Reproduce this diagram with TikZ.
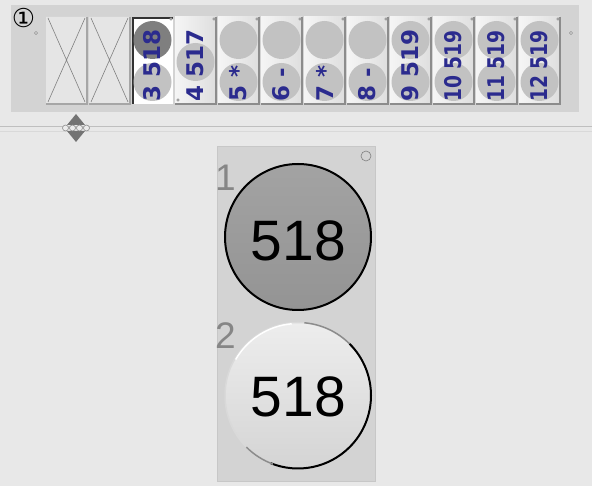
\documentclass[tikz,border=0pt]{standalone}
\usepackage{fontspec}
\setmainfont{Liberation Sans}
\newfontfamily\tilefont{DejaVu Sans}
\usepackage[HTML]{xcolor}
\usepackage{tikz}
\usetikzlibrary{positioning}
\definecolor{winback}{HTML}{E8E8E8}
\definecolor{panelgray}{HTML}{D3D3D3}
\definecolor{discoff}{HTML}{C2C2C2}
\definecolor{discon}{HTML}{7F7F7F}
\definecolor{tileblue}{HTML}{2B2B8E}
\definecolor{labelgray}{HTML}{868686}

\begin{document}
\begin{tikzpicture}[x=1pt,y=-1pt,
  tilebtn/.style={left color=white!96!black, right color=black!13},
  tileedge/.style={draw=black!45, line width=1.2pt},
  tiletext/.style={rotate=90, anchor=west, inner sep=0pt, text=tileblue,
    font=\tilefont\bfseries\fontsize{23}{23}\selectfont},
  cornerdot/.style={draw=black!50, fill=white, line width=0.5pt},
  bigdisc/.style={circle, minimum size=146pt, inner sep=0pt},
  disctext/.style={inner sep=0pt, font=\fontsize{57}{60}\selectfont},
  numlabel/.style={anchor=base west, inner sep=0pt, text=labelgray,
    font=\fontsize{37}{40}\selectfont}]
\useasboundingbox (0,0) rectangle (592,486);
% window background
\fill[winback] (0,0) rectangle (592,486);
% top strip panel
\fill[panelgray] (11,5) rectangle (579,112);
\node[inner sep=0pt, font=\tilefont\fontsize{26}{26}\selectfont] (mark) at (23.5,18) {①};
\draw[cornerdot] (36,33) circle (1.5) (571,33) circle (1.5);
% empty placeholder tiles
\fill[black!10] (46,17) rectangle +(41,87) (89,17) rectangle +(41,87);
\draw[tileedge, draw=black!35] (87,17) -- (87,104) -- (46,104);
\draw[tileedge, draw=black!35] (130,17) -- (130,104) -- (89,104);
\draw[black!50, line width=0.6pt] (48,18) -- (85,102) (85,18) -- (48,102);
\draw[black!50, line width=0.6pt] (91,18) -- (128,102) (128,18) -- (91,102);
% selected tile 3
\fill[white] (132,17) rectangle +(41,87);
\draw[black!80, line width=2pt] (133,104) -- (133,18) -- (173,18);
\fill[discon] (152.5,40) circle (19);
\fill[discoff] (152.5,82) circle (19);
% button tiles 4 to 12
\shade[tilebtn] (175,17) rectangle +(41,87);
\shade[tilebtn] (218,17) rectangle +(41,87);
\shade[tilebtn] (261,17) rectangle +(41,87);
\shade[tilebtn] (304,17) rectangle +(41,87);
\shade[tilebtn] (347,17) rectangle +(41,87);
\shade[tilebtn] (390,17) rectangle +(41,87);
\shade[tilebtn] (433,17) rectangle +(41,87);
\shade[tilebtn] (476,17) rectangle +(41,87);
\shade[tilebtn] (519,17) rectangle +(41,87);
\draw[tileedge] (216,17) -- (216,104) -- (175,104);
\draw[tileedge] (259,17) -- (259,104) -- (218,104);
\draw[tileedge] (302,17) -- (302,104) -- (261,104);
\draw[tileedge] (345,17) -- (345,104) -- (304,104);
\draw[tileedge] (388,17) -- (388,104) -- (347,104);
\draw[tileedge] (431,17) -- (431,104) -- (390,104);
\draw[tileedge] (474,17) -- (474,104) -- (433,104);
\draw[tileedge] (517,17) -- (517,104) -- (476,104);
\draw[tileedge] (560,17) -- (560,104) -- (519,104);
% grey discs on the buttons
\fill[discoff] (195.5,62) circle (19);
\fill[discoff] (238.5,40) circle (19) (238.5,82) circle (19);
\fill[discoff] (281.5,40) circle (19) (281.5,82) circle (19);
\fill[discoff] (324.5,40) circle (19) (324.5,82) circle (19);
\fill[discoff] (367.5,40) circle (19) (367.5,82) circle (19);
\fill[discoff] (410.5,40) circle (19) (410.5,82) circle (19);
\fill[discoff] (453.5,40) circle (19) (453.5,82) circle (19);
\fill[discoff] (496.5,40) circle (19) (496.5,82) circle (19);
\fill[discoff] (539.5,40) circle (19) (539.5,82) circle (19);
% tile captions
\node[tiletext] (t3) at (152.5,102) {3 518};
\node[tiletext] (t4) at (195.5,102) {4 517};
\node[tiletext] (t5) at (238.5,102) {5 *};
\node[tiletext] (t6) at (281.5,102) {6 -};
\node[tiletext] (t7) at (324.5,102) {7 *};
\node[tiletext] (t8) at (367.5,102) {8 -};
\node[tiletext] (t9) at (410.5,102) {9 519};
\node[tiletext] (t10) at (453.5,102) {\scalebox{0.81}[1]{10 519}};
\node[tiletext] (t11) at (496.5,102) {\scalebox{0.81}[1]{11 519}};
\node[tiletext] (t12) at (539.5,102) {\scalebox{0.81}[1]{12 519}};
% small corner marks
\draw[cornerdot] (171,19) circle (1.3) (214,19) circle (1.3) (257,19) circle (1.3)
  (300,19) circle (1.3) (343,19) circle (1.3) (386,19) circle (1.3)
  (429,19) circle (1.3) (472,19) circle (1.3) (515,19) circle (1.3)
  (558,19) circle (1.3) (178,100) circle (1.3);
% splitter
\draw[black!25] (0,126) -- (592,126);
\draw[white!85!black] (0,131) -- (592,131);
\fill[black!55] (76,114) -- (85,125) -- (67,125) -- cycle;
\fill[black!55] (76,142) -- (85,131) -- (67,131) -- cycle;
\draw[black!45, fill=white!92!black, line width=0.6pt] (65.5,128) circle (3) (72.5,128) circle (3)
  (79.5,128) circle (3) (86.5,128) circle (3);
% lower detail panel
\draw[fill=panelgray, draw=black!22] (217,146) rectangle (375,481);
\draw[black!50, line width=0.6pt] (366,156) circle (5);
\node[numlabel] (n1) at (215,191) {1};
\node[numlabel] (n2) at (215,349) {2};
% disc 1 (dark)
\node[bigdisc, top color=black!36, bottom color=black!42, draw=black, line width=2pt] (disc1) at (298,237) {};
\node[disctext] (v1) at (298.5,240.5) {518};
% disc 2 (light)
\node[bigdisc, top color=white!93!black, bottom color=black!17, draw=black!15, line width=1.5pt] (disc2) at (298,395.5) {};
\draw[black!45, line width=1.5pt] (298,395.5) ++(-85:73) arc[start angle=-85, end angle=-40, radius=73];
\draw[black, line width=2pt] (298,395.5) ++(-45:73) arc[start angle=-45, end angle=112, radius=73];
\draw[black!45, line width=1.5pt] (298,395.5) ++(110:73) arc[start angle=110, end angle=135, radius=73];
\draw[white, line width=1.5pt] (298,395.5) ++(-150:72) arc[start angle=-150, end angle=-95, radius=72];
\node[disctext] (v2) at (298.5,397) {518};
\end{tikzpicture}
\end{document}
